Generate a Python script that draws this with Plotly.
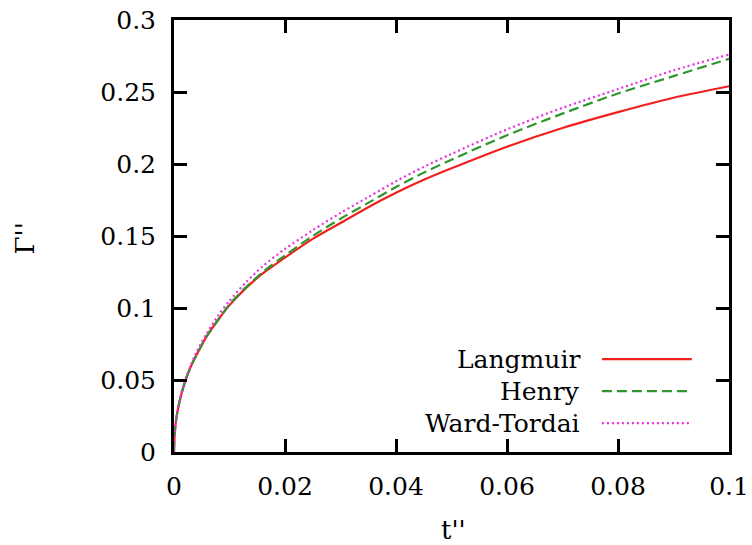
import plotly.graph_objects as go

# Data
t_vals = [0, 0.0001, 0.0003, 0.0006, 0.001, 0.002, 0.003, 0.004, 0.006, 0.008,
          0.010, 0.013, 0.016, 0.020, 0.025, 0.030, 0.035, 0.040, 0.045, 0.050,
          0.060, 0.070, 0.080, 0.090, 0.100]
langmuir = [0, 0.011, 0.0195, 0.0275, 0.035, 0.049, 0.059, 0.067, 0.081, 0.092,
            0.102, 0.114, 0.124, 0.135, 0.148, 0.159, 0.170, 0.180, 0.189, 0.197,
            0.212, 0.225, 0.236, 0.246, 0.254]
henry = [0, 0.011, 0.0195, 0.0275, 0.035, 0.049, 0.059, 0.067, 0.081, 0.092,
         0.1025, 0.1145, 0.125, 0.1365, 0.150, 0.162, 0.173, 0.184, 0.194, 0.203,
         0.220, 0.235, 0.249, 0.261, 0.273]
ward_tordai = [0, 0.012, 0.020, 0.028, 0.036, 0.050, 0.060, 0.069, 0.083, 0.095,
               0.105, 0.118, 0.129, 0.141, 0.154, 0.166, 0.177, 0.188, 0.198, 0.207,
               0.224, 0.239, 0.252, 0.265, 0.276]

series_names = ["Langmuir", "Henry", "Ward-Tordai"]
x_tickvals = [0, 0.02, 0.04, 0.06, 0.08, 0.1]
x_ticktext = ["0", "0.02", "0.04", "0.06", "0.08", "0.1"]
y_tickvals = [0, 0.05, 0.1, 0.15, 0.2, 0.25, 0.3]
y_ticktext = ["0", "0.05", "0.1", "0.15", "0.2", "0.25", "0.3"]

colors = ["#f0201e", "#2e962e", "#e830e0"]
dashes = ["solid", "10px,5px", "2px,3px"]
series = [langmuir, henry, ward_tordai]

FONT = "DejaVu Serif"
FS = 25

fig = go.Figure()
for name, ys, c, d in zip(series_names, series, colors, dashes):
    fig.add_trace(go.Scatter(x=t_vals, y=ys, mode="lines", name=name,
                             line=dict(color=c, width=2.2, dash=d, shape="spline", smoothing=0.8),
                             showlegend=False))

# manual legend (text on left, sample line on right, like gnuplot)
leg_y = [0.215, 0.141, 0.067]
for name, c, d, yy in zip(series_names, colors, dashes, leg_y):
    fig.add_annotation(x=0.735, y=yy, xref="paper", yref="paper", text=name,
                       showarrow=False, xanchor="right", yanchor="middle",
                       font=dict(family=FONT, size=FS, color="black"))
    fig.add_shape(type="line", xref="paper", yref="paper", x0=0.771, x1=0.933,
                  y0=yy, y1=yy, line=dict(color=c, width=2.2, dash=d))

# axis titles
fig.add_annotation(x=0.503, y=-0.18, xref="paper", yref="paper", text="t''",
                   showarrow=False, xanchor="center", yanchor="middle",
                   font=dict(family=FONT, size=FS + 1, color="black"))
fig.add_annotation(x=-0.268, y=0.495, xref="paper", yref="paper", text="Γ''",
                   showarrow=False, xanchor="center", yanchor="middle", textangle=-90,
                   font=dict(family=FONT, size=FS + 1, color="black"))

axis_common = dict(showline=True, linecolor="black", linewidth=3, mirror="ticks",
                   ticks="inside", ticklen=13, tickwidth=2.5, tickcolor="black",
                   showgrid=False, zeroline=False, automargin=False,
                   ticklabeloverflow="allow",
                   tickfont=dict(family=FONT, size=FS, color="black"))

fig.update_layout(
    width=752, height=545,
    margin=dict(l=174, r=23, t=20, b=93),
    paper_bgcolor="white", plot_bgcolor="white",
    font=dict(family=FONT),
    xaxis=dict(range=[0, 0.1], tickvals=x_tickvals, ticktext=x_ticktext,
               ticklabelstandoff=10, **axis_common),
    yaxis=dict(range=[0, 0.3], tickvals=y_tickvals, ticktext=y_ticktext,
               ticklabelstandoff=10, **axis_common),
)

# remove the default 8px page margin so the figure fills the window exactly
fig.write_html("out.html", config={"displayModeBar": False},
               post_script="document.body.style.margin='0px';")
